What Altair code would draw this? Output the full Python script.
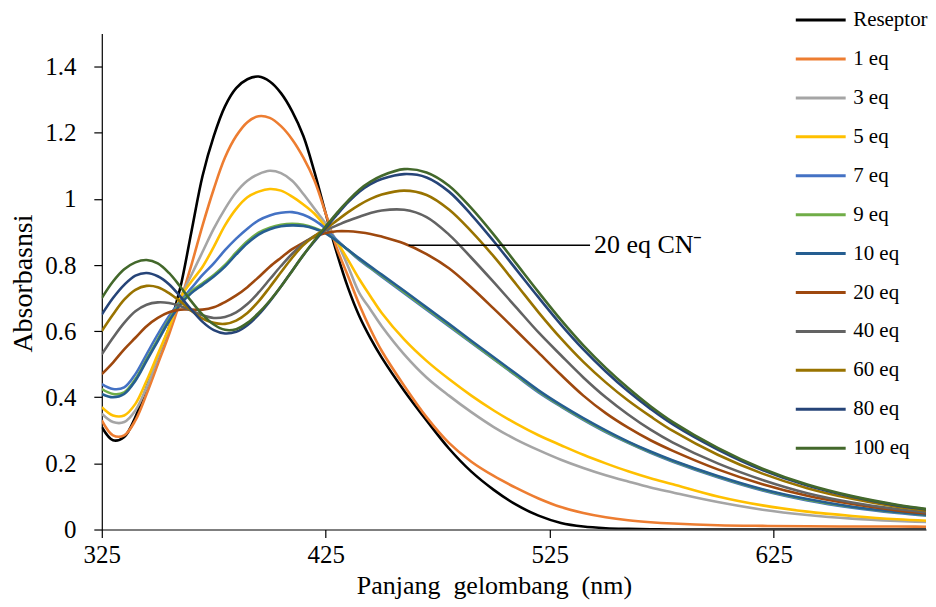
import altair as alt
import pandas as pd

wavelength = [325, 330, 335, 340, 345, 350, 355, 360, 365, 370, 375, 380, 385, 390, 395,
              400, 405, 410, 415, 420, 425, 430, 435, 440, 445, 450, 460, 470, 480, 490,
              500, 510, 520, 530, 540, 550, 560, 570, 580, 600, 620, 640, 660, 680, 700]

reseptor = [0.31, 0.27, 0.28, 0.34, 0.43, 0.52, 0.61, 0.73, 0.90, 1.07, 1.19, 1.28, 1.335, 1.362, 1.37,
            1.355, 1.32, 1.265, 1.19, 1.08, 0.955, 0.835, 0.73, 0.645, 0.578, 0.52, 0.42, 0.33, 0.245, 0.175,
            0.12, 0.075, 0.042, 0.02, 0.009, 0.004, 0.002, 0.001, 0.0, 0.0, 0.0, 0.0, 0.0, 0.0, 0.0]
eq1 = [0.33, 0.285, 0.285, 0.33, 0.41, 0.50, 0.59, 0.69, 0.80, 0.92, 1.03, 1.125, 1.19, 1.232, 1.25,
       1.245, 1.22, 1.18, 1.125, 1.055, 0.955, 0.85, 0.765, 0.68, 0.605, 0.54, 0.435, 0.34, 0.262, 0.205,
       0.162, 0.126, 0.094, 0.068, 0.05, 0.037, 0.028, 0.022, 0.018, 0.013, 0.011, 0.01, 0.009, 0.009, 0.008]
eq3 = [0.35, 0.325, 0.325, 0.36, 0.43, 0.52, 0.61, 0.70, 0.77, 0.84, 0.91, 0.97, 1.02, 1.055, 1.075,
       1.085, 1.078, 1.055, 1.015, 0.97, 0.925, 0.87, 0.795, 0.715, 0.665, 0.615, 0.53, 0.46, 0.405, 0.355,
       0.31, 0.272, 0.24, 0.211, 0.186, 0.164, 0.145, 0.127, 0.112, 0.083, 0.06, 0.044, 0.033, 0.026, 0.021]
eq5 = [0.37, 0.345, 0.345, 0.38, 0.45, 0.53, 0.61, 0.70, 0.75, 0.795, 0.855, 0.92, 0.97, 1.005, 1.022,
       1.03, 1.025, 1.007, 0.983, 0.955, 0.915, 0.87, 0.815, 0.757, 0.705, 0.655, 0.575, 0.51, 0.455, 0.405,
       0.36, 0.32, 0.285, 0.255, 0.226, 0.20, 0.176, 0.155, 0.137, 0.10, 0.073, 0.054, 0.041, 0.031, 0.025]
eq7 = [0.44, 0.425, 0.43, 0.47, 0.53, 0.59, 0.645, 0.69, 0.73, 0.77, 0.805, 0.845, 0.88, 0.91, 0.935,
       0.95, 0.958, 0.96, 0.952, 0.935, 0.91, 0.875, 0.845, 0.815, 0.79, 0.765, 0.715, 0.665, 0.615, 0.565,
       0.515, 0.465, 0.415, 0.372, 0.332, 0.295, 0.262, 0.232, 0.205, 0.158, 0.118, 0.088, 0.066, 0.05, 0.038]
eq9 = [0.425, 0.41, 0.415, 0.455, 0.515, 0.575, 0.635, 0.685, 0.72, 0.745, 0.77, 0.80, 0.838, 0.872, 0.898,
       0.913, 0.922, 0.925, 0.922, 0.912, 0.897, 0.872, 0.845, 0.818, 0.792, 0.768, 0.718, 0.668, 0.618, 0.567,
       0.517, 0.467, 0.418, 0.374, 0.334, 0.297, 0.264, 0.234, 0.207, 0.16, 0.12, 0.09, 0.068, 0.052, 0.04]
eq10 = [0.41, 0.40, 0.41, 0.45, 0.51, 0.57, 0.63, 0.68, 0.715, 0.74, 0.765, 0.795, 0.832, 0.866, 0.892,
        0.908, 0.917, 0.92, 0.918, 0.91, 0.896, 0.872, 0.846, 0.82, 0.795, 0.771, 0.722, 0.672, 0.622, 0.571,
        0.521, 0.471, 0.421, 0.377, 0.337, 0.30, 0.266, 0.236, 0.209, 0.162, 0.122, 0.092, 0.069, 0.053, 0.041]
eq20 = [0.47, 0.505, 0.545, 0.58, 0.615, 0.64, 0.657, 0.665, 0.665, 0.665, 0.672, 0.688, 0.708, 0.733, 0.763,
        0.795, 0.822, 0.848, 0.868, 0.885, 0.897, 0.902, 0.902, 0.899, 0.894, 0.886, 0.865, 0.833, 0.79, 0.732,
        0.668, 0.602, 0.535, 0.468, 0.405, 0.352, 0.308, 0.27, 0.238, 0.182, 0.137, 0.102, 0.077, 0.058, 0.044]
eq40 = [0.53, 0.58, 0.625, 0.66, 0.68, 0.687, 0.685, 0.676, 0.662, 0.648, 0.64, 0.643, 0.657, 0.682, 0.717,
        0.757, 0.797, 0.834, 0.865, 0.888, 0.905, 0.92, 0.934, 0.946, 0.957, 0.965, 0.967, 0.945, 0.892, 0.822,
        0.748, 0.672, 0.596, 0.527, 0.46, 0.40, 0.348, 0.302, 0.263, 0.20, 0.15, 0.11, 0.082, 0.062, 0.047]
eq60 = [0.60, 0.65, 0.695, 0.725, 0.737, 0.733, 0.715, 0.69, 0.662, 0.638, 0.625, 0.622, 0.632, 0.655, 0.69,
        0.733, 0.778, 0.822, 0.86, 0.888, 0.91, 0.935, 0.96, 0.982, 1.0, 1.013, 1.025, 1.012, 0.968, 0.902,
        0.826, 0.742, 0.657, 0.578, 0.507, 0.445, 0.39, 0.342, 0.298, 0.226, 0.169, 0.125, 0.093, 0.069, 0.052]
eq80 = [0.65, 0.70, 0.74, 0.768, 0.776, 0.766, 0.742, 0.705, 0.665, 0.628, 0.603, 0.593, 0.598, 0.618, 0.65,
        0.69, 0.735, 0.783, 0.83, 0.872, 0.912, 0.952, 0.99, 1.022, 1.045, 1.06, 1.075, 1.065, 1.022, 0.952,
        0.872, 0.787, 0.702, 0.62, 0.545, 0.478, 0.418, 0.365, 0.318, 0.242, 0.18, 0.133, 0.099, 0.073, 0.055]
eq100 = [0.70, 0.75, 0.787, 0.808, 0.815, 0.805, 0.776, 0.735, 0.69, 0.65, 0.62, 0.604, 0.606, 0.625, 0.655,
         0.692, 0.735, 0.782, 0.83, 0.875, 0.917, 0.958, 0.995, 1.028, 1.052, 1.07, 1.09, 1.08, 1.04, 0.972,
         0.892, 0.805, 0.718, 0.634, 0.557, 0.489, 0.428, 0.373, 0.325, 0.247, 0.184, 0.136, 0.101, 0.075, 0.056]

series_names = ["Reseptor", "1 eq", "3 eq", "5 eq", "7 eq", "9 eq", "10 eq",
                "20 eq", "40 eq", "60 eq", "80 eq", "100 eq"]
series_colors = ["#000000", "#ED7D31", "#A5A5A5", "#FFC000", "#4472C4", "#70AD47", "#255E91",
                 "#9E480E", "#636363", "#997300", "#264478", "#43682B"]
series_values = [reseptor, eq1, eq3, eq5, eq7, eq9, eq10, eq20, eq40, eq60, eq80, eq100]

x_ticks = [325, 425, 525, 625]
y_ticks = [0, 0.2, 0.4, 0.6, 0.8, 1, 1.2, 1.4]

annot_x = [462]
annot_x2 = [543]
annot_y = [0.86]
annot_text = ["20 eq CN\u207B"]

rows = []
for i, (name, vals) in enumerate(zip(series_names, series_values)):
    for w, a in zip(wavelength, vals):
        rows.append({"nm": w, "A": a, "series": name, "k": i})
df = pd.DataFrame(rows)

FONT = "Liberation Serif"

lines = alt.Chart(df).mark_line(strokeWidth=2.6, interpolate="catmull-rom", clip=True).encode(
    x=alt.X("nm:Q",
            scale=alt.Scale(domain=[325, 693], nice=False, zero=False),
            axis=alt.Axis(values=x_ticks, title="Panjang\u00a0 gelombang\u00a0 (nm)", labelFlush=False,
                          titleX=393, titleY=43, titleBaseline="top", titleFontSize=26,
                          labelPadding=5)),
    y=alt.Y("A:Q",
            scale=alt.Scale(domain=[0, 1.5], nice=False),
            axis=alt.Axis(values=y_ticks, format="~g", title="Absorbasnsi", titleFontSize=28,
                          titleX=-64, titleY=250, labelPadding=18)),
    color=alt.Color("series:N",
                    sort=series_names,
                    scale=alt.Scale(domain=series_names, range=series_colors),
                    legend=alt.Legend(title=None, orient="none", legendX=710, legendY=-24,
                                      symbolType="M-5,0H5", symbolSize=100, symbolStrokeWidth=3,
                                      labelFont=FONT, labelFontSize=21, labelColor="black",
                                      rowPadding=17, labelOffset=22, padding=0)),
    detail="k:O",
)

annot_df = pd.DataFrame({"x": annot_x, "x2": annot_x2, "y": annot_y, "t": annot_text})
rule = alt.Chart(annot_df).mark_rule(color="black", strokeWidth=1.5).encode(
    x="x:Q", x2="x2:Q", y="y:Q")
label = alt.Chart(annot_df).mark_text(align="left", baseline="middle", font=FONT,
                                      fontSize=26, color="black", dx=4).encode(
    x="x2:Q", y="y:Q", text="t:N")

chart = alt.layer(lines, rule, label).properties(
    width=826, height=497,
    autosize=alt.AutoSizeParams(type="none"),
    padding={"left": 94, "top": 25, "right": 2, "bottom": 74},
).configure_view(stroke=None).configure_axis(
    grid=False, domainColor="black", tickColor="black", labelColor="black",
    titleColor="black", labelFont=FONT, titleFont=FONT, labelFontSize=25,
    titleFontWeight="normal", tickSize=8, domainWidth=1.2, tickWidth=1.2,
)

chart.save("out.html", embed_options={"renderer": "svg", "actions": False})
